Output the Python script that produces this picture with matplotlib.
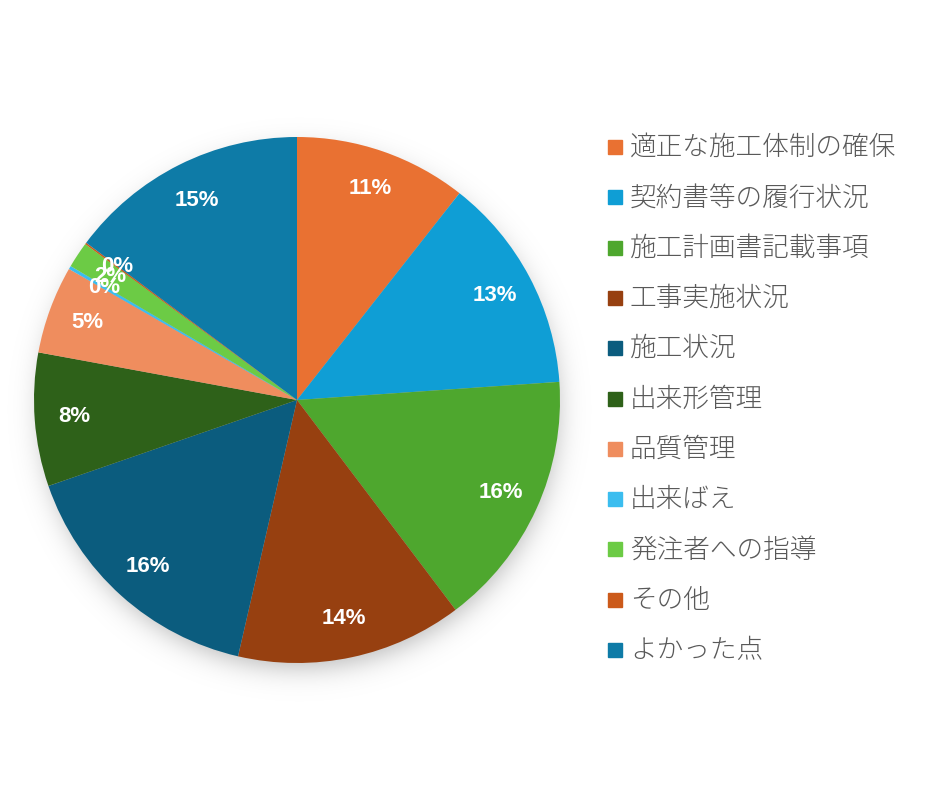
import matplotlib
matplotlib.use('Agg')
import matplotlib.pyplot as plt
import numpy as np

plt.rcParams['font.family'] = ['Noto Sans CJK JP', 'DejaVu Sans']

labels = ['適正な施工体制の確保', '契約書等の履行状況', '施工計画書記載事項', '工事実施状況',
          '施工状況', '出来形管理', '品質管理', '出来ばえ', '発注者への指導', 'その他', 'よかった点']
values = [10.6, 13.3, 15.8, 13.9, 16.1, 8.2, 5.4, 0.2, 1.6, 0.1, 14.8]
colors = ['#E97132', '#0F9ED5', '#4EA72E', '#974010', '#0B5C7E', '#2E6119',
          '#EF8D5E', '#3BBDEF', '#6CCB45', '#CC5A1A', '#0E7BA7']

W, H = 929, 800
fig = plt.figure(figsize=(W / 100, H / 100), dpi=100)

# soft shadow behind the pie (background layer)
bg = fig.add_axes([0, 0, 1, 1])
yy, xx = np.mgrid[0:H, 0:W]
d = np.hypot(xx - 299, yy - 409)
alpha = 0.28 * 0.5 * (1 - np.tanh((d - 258) / 16))
shadow = np.zeros((H, W, 4))
shadow[..., 3] = alpha
bg.imshow(shadow, extent=(0, W, H, 0), interpolation='bilinear')
bg.set_xlim(0, W)
bg.set_ylim(H, 0)
bg.axis('off')

ax = fig.add_axes([34 / W, 137 / H, 526 / W, 526 / H])
wedges, texts, autotexts = ax.pie(values, colors=colors, startangle=90, counterclock=False,
                                  autopct='%.0f%%', pctdistance=0.85,
                                  wedgeprops=dict(linewidth=0),
                                  textprops=dict(color='white', fontsize=16, fontweight='bold',
                                                 family='Liberation Sans'))
ax.set_xlim(-1, 1)
ax.set_ylim(-1, 1)
ax.axis('off')

# legend drawn by hand in figure pixels
for i, (lab, c) in enumerate(zip(labels, colors)):
    y = H - (147 + 50.3 * i)
    fig.patches.append(plt.Rectangle((608 / W, (y - 7) / H), 14 / W, 14 / H,
                                     transform=fig.transFigure, color=c))
    fig.text(630 / W, y / H, lab, fontsize=19.2, color='#595959', va='center', ha='left',
             fontweight='light')

fig.savefig('out.png', dpi=100, facecolor='white')
